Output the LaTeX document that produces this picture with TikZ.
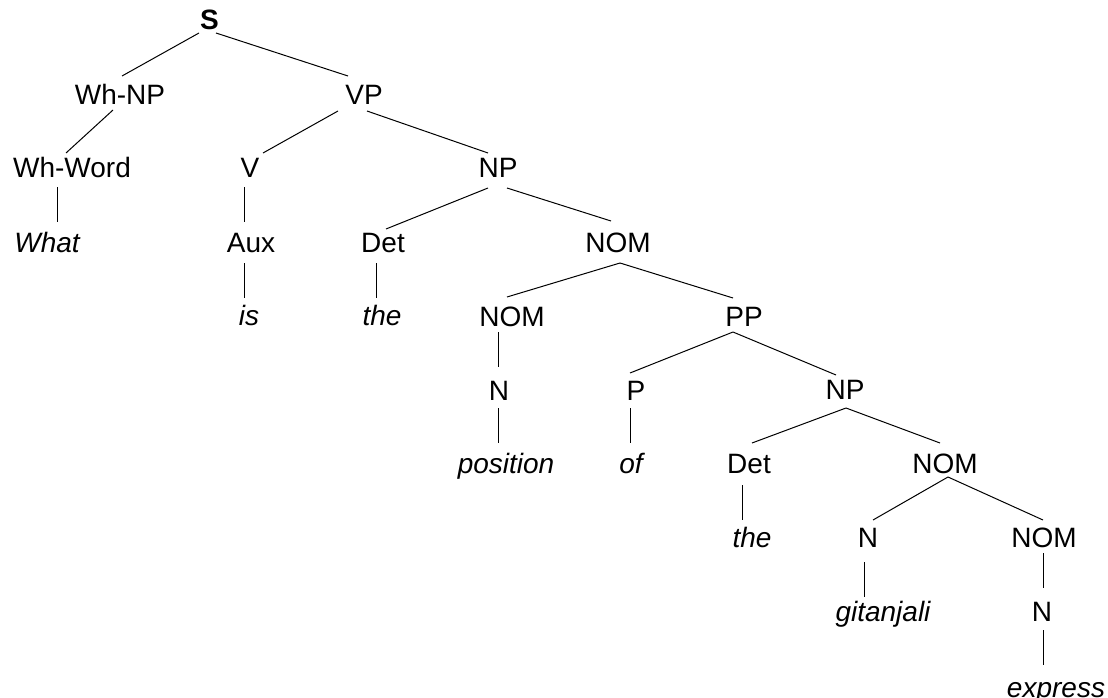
\documentclass[tikz,border=0pt]{standalone}
\usepackage{fontspec}
\setmainfont{Liberation Sans}
\begin{document}
\begin{tikzpicture}[x=1pt,y=-1pt,
  lbl/.style={anchor=base,inner sep=0pt,font=\fontsize{28}{32}\selectfont},
  word/.style={lbl,font=\fontsize{28}{32}\selectfont\itshape},
  branch/.style={line width=1pt,black}]
\useasboundingbox (0,0) rectangle (1108,698);

% category labels and words, placed on their baselines
\node[lbl] (s) at (209.5,30) {\textbf{S}};
\node[lbl] (whnp) at (120,105) {Wh-NP};
\node[lbl] (vp) at (364,105) {VP};
\node[lbl] (whword) at (72,177) {Wh-Word};
\node[lbl] (v) at (250,177) {V};
\node[lbl] (npa) at (498,177) {NP};
\node[word] (what) at (47,252) {What};
\node[lbl] (aux) at (251,252) {Aux};
\node[lbl] (deta) at (383,252) {Det};
\node[lbl] (noma) at (618,252) {NOM};
\node[word] (is) at (249,325) {is};
\node[word] (thea) at (382,325) {the};
\node[lbl] (nomb) at (512,326) {NOM};
\node[lbl] (pp) at (744,326) {PP};
\node[lbl] (na) at (499,400) {N};
\node[lbl] (p) at (636,400) {P};
\node[lbl] (npb) at (845,399) {NP};
\node[word] (position) at (506,473) {position};
\node[word] (of) at (631,473) {of};
\node[lbl] (detb) at (749,473) {Det};
\node[lbl] (nomc) at (945,473) {NOM};
\node[word] (theb) at (752,547) {the};
\node[lbl] (nb) at (868,547) {N};
\node[lbl] (nomd) at (1044,547) {NOM};
\node[word] (gitanjali) at (883,621) {gitanjali};
\node[lbl] (nc) at (1042,621) {N};
\node[word] (express) at (1056,697) {express};

% branches
\draw[branch] ([shift={(-10.5,3)}]s.base) -- ([shift={(2,-29)}]whnp.base);
\draw[branch] ([shift={(6.5,3)}]s.base) -- ([shift={(-16,-29)}]vp.base);
\draw[branch] ([shift={(-7,5)}]whnp.base) -- ([shift={(-6,-24)}]whword.base);
\draw[branch] ([shift={(-26,6)}]vp.base) -- ([shift={(13,-24)}]v.base);
\draw[branch] ([shift={(3,6)}]vp.base) -- ([shift={(-10,-24)}]npa.base);
\draw[branch] ([shift={(-15,10)}]whword.base) -- ([shift={(10,-30)}]what.base);
\draw[branch] ([shift={(-6,10)}]v.base) -- ([shift={(-7,-30)}]aux.base);
\draw[branch] ([shift={(-10,11)}]npa.base) -- ([shift={(3,-23)}]deta.base);
\draw[branch] ([shift={(9,11)}]npa.base) -- ([shift={(-7,-31)}]noma.base);
\draw[branch] ([shift={(-7,11)}]aux.base) -- ([shift={(-5,-27)}]is.base);
\draw[branch] ([shift={(-7,11)}]deta.base) -- ([shift={(-6,-27)}]thea.base);
\draw[branch] ([shift={(2,11)}]noma.base) -- ([shift={(-5,-29)}]nomb.base);
\draw[branch] ([shift={(2,11)}]noma.base) -- ([shift={(-11,-28)}]pp.base);
\draw[branch] ([shift={(-14,6)}]nomb.base) -- ([shift={(-1,-33)}]na.base);
\draw[branch] ([shift={(-11,6)}]pp.base) -- ([shift={(-6,-27)}]p.base);
\draw[branch] ([shift={(-11,6)}]pp.base) -- ([shift={(-9,-24)}]npb.base);
\draw[branch] ([shift={(-1,8)}]na.base) -- ([shift={(-8,-30)}]position.base);
\draw[branch] ([shift={(-6,8)}]p.base) -- ([shift={(-1,-30)}]of.base);
\draw[branch] ([shift={(1,9)}]npb.base) -- ([shift={(3,-30)}]detb.base);
\draw[branch] ([shift={(1,9)}]npb.base) -- ([shift={(-5,-30)}]nomc.base);
\draw[branch] ([shift={(-7,12)}]detb.base) -- ([shift={(-10,-27)}]theb.base);
\draw[branch] ([shift={(3,4)}]nomc.base) -- ([shift={(5,-27)}]nb.base);
\draw[branch] ([shift={(3,4)}]nomc.base) -- ([shift={(-1,-27)}]nomd.base);
\draw[branch] ([shift={(-4,15)}]nb.base) -- ([shift={(-19,-24)}]gitanjali.base);
\draw[branch] ([shift={(-1,6)}]nomd.base) -- ([shift={(1,-33)}]nc.base);
\draw[branch] ([shift={(1,9)}]nc.base) -- ([shift={(-13,-32)}]express.base);
\end{tikzpicture}
\end{document}
